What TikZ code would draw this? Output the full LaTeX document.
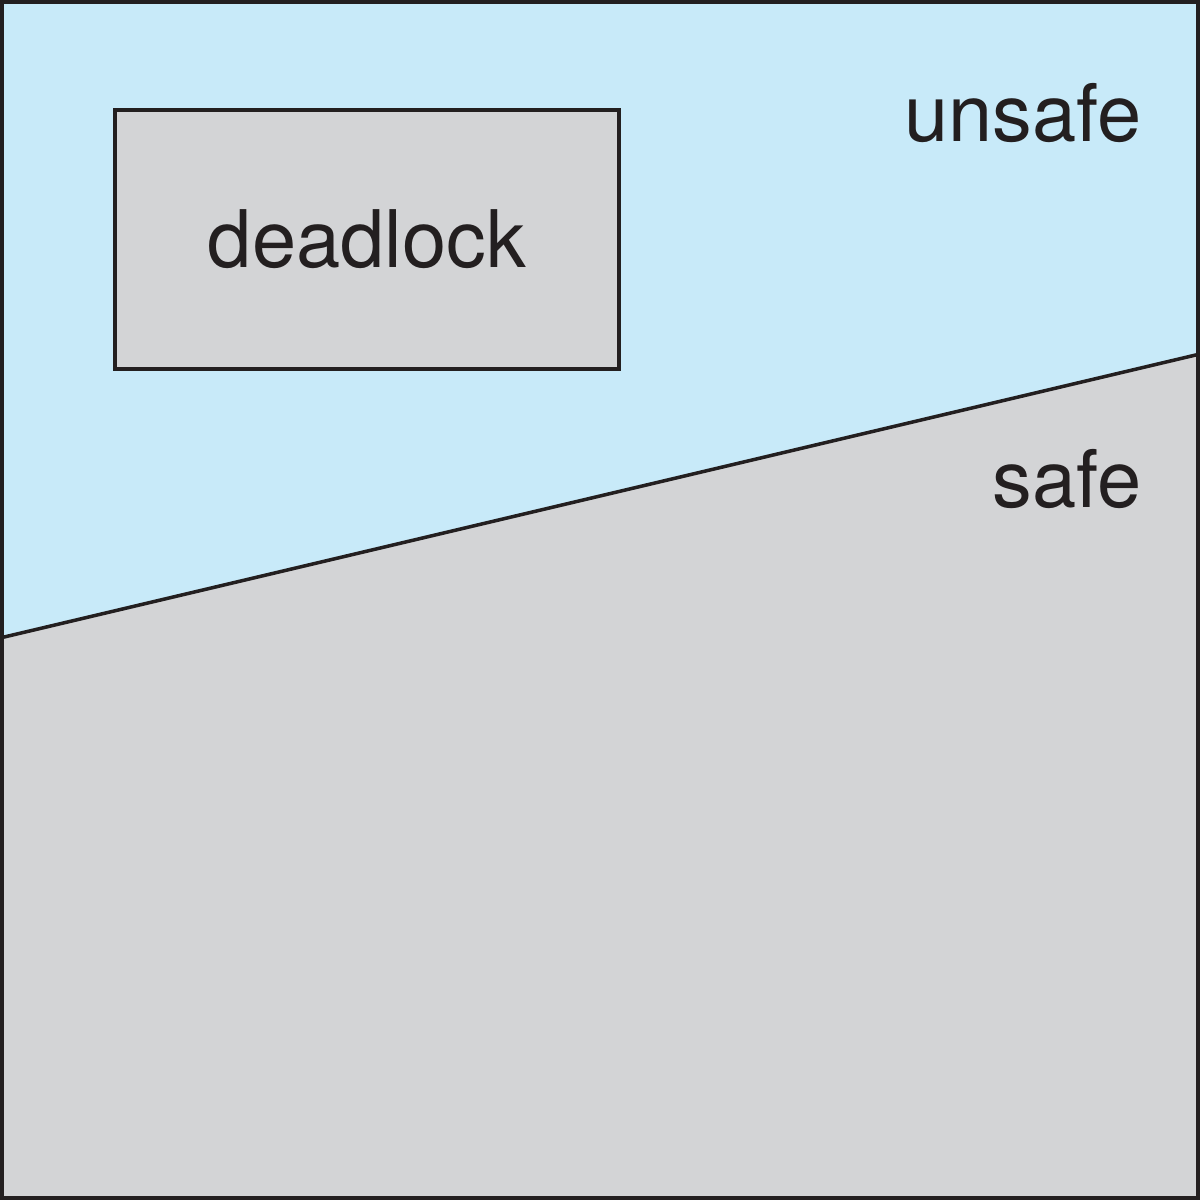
\documentclass[tikz,border=0pt]{standalone}
\usepackage{fontspec}
\setmainfont{TeX Gyre Heros}
\definecolor{unsafeblue}{RGB}{200,234,249}
\definecolor{safegray}{RGB}{211,212,214}
\definecolor{ink}{RGB}{35,31,32}
\begin{document}
\begin{tikzpicture}[
  lbl/.style={font=\fontsize{22.6}{27}\selectfont, text=ink, inner sep=0pt},
  dlbox/.style={draw=ink, line width=1pt, fill=safegray, minimum width=5.04cm, minimum height=2.59cm, inner sep=0pt, font=\fontsize{22.6}{27}\selectfont, text=ink}
]
\useasboundingbox (0,0) rectangle (12,12);
\coordinate (L) at (0,5.62);
\coordinate (R) at (12,8.46);
\fill[unsafeblue] (0,0) rectangle (12,12);
\fill[safegray] (0,0) -- (L) -- (R) -- (12,0) -- cycle;
\draw[ink, line width=1pt] (L) -- (R);
\node[dlbox] (dl) at (3.67,9.605) {\raisebox{0.02cm}{deadlock}};
\node[lbl, anchor=base east] (unsafe) at (11.42,10.58) {unsafe};
\node[lbl, anchor=base east] (safe) at (11.42,6.92) {safe};
\draw[ink, line width=1.1pt] (0.02,0.02) rectangle (11.98,11.98);
\end{tikzpicture}
\end{document}
